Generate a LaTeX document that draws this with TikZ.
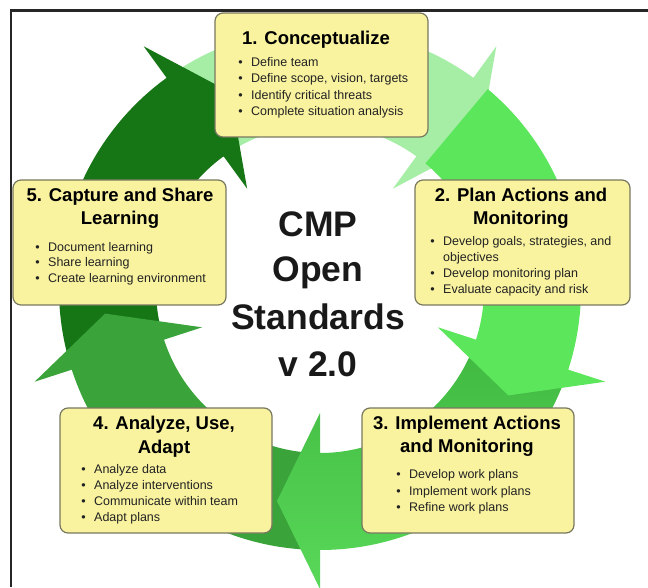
\documentclass[tikz,border=0pt]{standalone}
\usepackage{fontspec}
\setmainfont{Liberation Sans}
\usetikzlibrary{calc}

\definecolor{ringA}{RGB}{166,238,166}
\definecolor{ringB}{RGB}{92,230,92}
\definecolor{ringCtail}{RGB}{66,186,66}
\definecolor{ringC}{RGB}{88,216,88}
\definecolor{ringD}{RGB}{58,163,58}
\definecolor{ringE}{RGB}{22,118,22}
\definecolor{boxfill}{RGB}{249,243,160}
\definecolor{boxline}{RGB}{120,120,95}
\definecolor{itemtext}{RGB}{34,34,34}

% one block arrow of the cycle: tail angle, head angle, paint options
\newcommand\ringarrow[3]{%
  \path[#3] ($(c)+(#1:261)$) arc[start angle=#1, end angle=#2, radius=261]
    -- ($(c)+(#2:300)$) -- ($(c)+(#2:212)+(#2-90:43)$) -- ($(c)+(#2:124)$)
    -- ($(c)+(#2:164)$) arc[start angle=#2, end angle=#1, radius=164] -- cycle;}
\newcommand\bul{\llap{\textbullet\hspace{8.5pt}}}

\begin{document}
\begin{tikzpicture}[x=1pt,y=1pt,
  stagebox/.style={draw=boxline, line width=1.2pt, fill=boxfill, rounded corners=8pt, inner sep=0pt},
  title/.style={font=\bfseries\fontsize{18.5}{22}\selectfont, anchor=base, inner sep=0pt, text=black},
  item/.style={font=\fontsize{12.5}{15}\selectfont, anchor=base west, inner sep=0pt, text=itemtext},
  hub/.style={font=\bfseries\fontsize{35.5}{40}\selectfont, anchor=base, inner sep=0pt, text=black!90}]
\useasboundingbox (0,0) rectangle (648,587);
\fill[white] (0,0) rectangle (648,587);

% frame
\draw[line width=2.6pt, black!85] (648,576.5) -- (11,576.5) -- (11,0);

% the cycle
\coordinate (c) at (320,298);
\ringarrow{122}{54}{fill=ringA}
\ringarrow{194}{126}{fill=ringE}
\ringarrow{266}{198}{fill=ringD}
\ringarrow{-22}{-90}{top color=ringCtail, bottom color=ringC}
\ringarrow{50}{-18}{fill=ringB}

% stage boxes
\node[stagebox, minimum width=213pt, minimum height=124pt] (box1) at (321.5,512) {};
\node[stagebox, minimum width=215pt, minimum height=125pt] (box2) at (522.5,344.5) {};
\node[stagebox, minimum width=212pt, minimum height=125pt] (box3) at (468,116.5) {};
\node[stagebox, minimum width=212pt, minimum height=125pt] (box4) at (166,116.5) {};
\node[stagebox, minimum width=213pt, minimum height=125pt] (box5) at (119.5,344.5) {};

% titles
\node[title] (t1) at (316,542.5) {1. Conceptualize};
\node[title] (t2a) at (521,385.5) {2. Plan Actions and};
\node[title] (t2b) at (521,362.5) {Monitoring};
\node[title] (t3a) at (467,157.5) {3. Implement Actions};
\node[title] (t3b) at (467,134.5) {and Monitoring};
\node[title] (t4a) at (164,157.5) {4. Analyze, Use,};
\node[title] (t4b) at (164,133.5) {Adapt};
\node[title] (t5a) at (120,385.5) {5. Capture and Share};
\node[title] (t5b) at (120,362.5) {Learning};

% bullet items
\foreach \txt [count=\i] in {Define team, {Define scope, vision, targets},
    Identify critical threats, Complete situation analysis}
  \node[item] (s1-\i) at (251,{520.5-16.3*(\i-1)}) {\bul\txt};
\node[item] (s2-1) at (443,341.5) {\bul Develop goals, strategies, and};
\node[item] (s2-2) at (443,325.5) {objectives};
\node[item] (s2-3) at (443,309.5) {\bul Develop monitoring plan};
\node[item] (s2-4) at (443,293.5) {\bul Evaluate capacity and risk};
\foreach \txt [count=\i] in {Develop work plans, Implement work plans, Refine work plans}
  \node[item] (s3-\i) at (409,{108.5-16.5*(\i-1)}) {\bul\txt};
\foreach \txt [count=\i] in {Analyze data, Analyze interventions,
    Communicate within team, Adapt plans}
  \node[item] (s4-\i) at (94,{113.5-16*(\i-1)}) {\bul\txt};
\foreach \txt [count=\i] in {Document learning, Share learning, Create learning environment}
  \node[item] (s5-\i) at (48,{335.5-15.5*(\i-1)}) {\bul\txt};

% centre title
\node[hub] (h1) at (318,350) {CMP};
\node[hub] (h2) at (318,305) {Open};
\node[hub] (h3) at (318,257) {Standards};
\node[hub] (h4) at (318,210) {v 2.0};
\end{tikzpicture}
\end{document}
